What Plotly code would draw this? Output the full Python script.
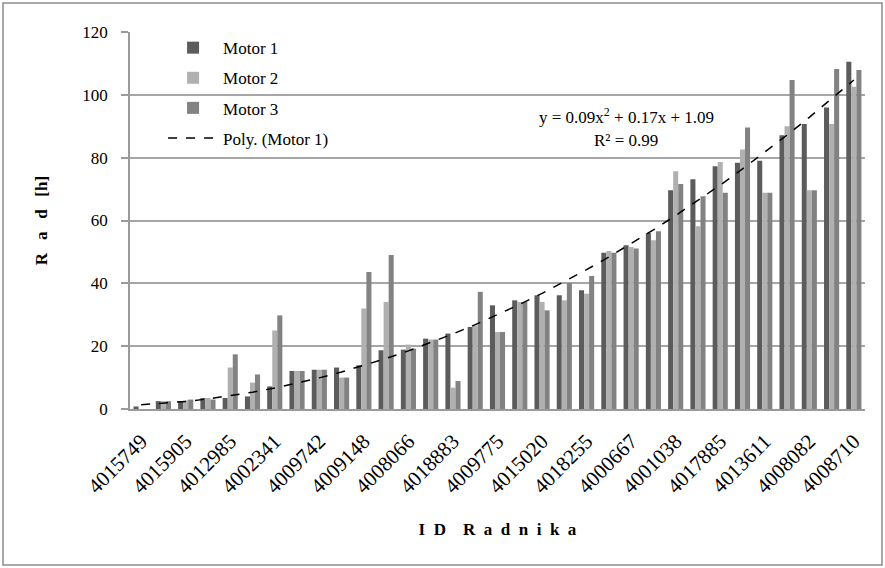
import plotly.graph_objects as go

tick_labels = ["4015749", "4015905", "4012985", "4002341", "4009742", "4009148",
               "4008066", "4018883", "4009775", "4015020", "4018255", "4000667",
               "4001038", "4017885", "4013611", "4008082", "4008710"]

motor1 = [0.8, 2.5, 2.5, 3.5, 3.5, 4.0, 7.2, 12.1, 12.5, 13.2, 13.9, 18.7, 18.9,
          22.4, 24.0, 26.1, 33.0, 34.6, 36.2, 36.2, 37.8, 49.7, 52.1, 56.0, 69.6,
          73.1, 77.3, 78.4, 79.0, 87.1, 90.7, 96.0, 110.5]
motor2 = [0.0, 2.5, 2.8, 3.5, 13.2, 8.4, 25.0, 12.1, 12.5, 10.0, 32.0, 34.1, 20.5,
          22.1, 6.8, 26.6, 24.5, 34.1, 34.1, 34.6, 36.7, 50.3, 51.6, 53.7, 75.7,
          58.2, 78.6, 82.6, 68.8, 90.0, 69.6, 90.7, 102.6]
motor3 = [0.0, 2.5, 3.0, 3.0, 17.4, 11.0, 29.8, 12.1, 12.5, 10.0, 43.6, 49.0, 19.2,
          22.1, 8.9, 37.3, 24.5, 34.1, 31.4, 40.1, 42.3, 49.7, 51.1, 56.6, 71.6,
          67.7, 68.8, 89.6, 68.8, 104.7, 69.6, 108.2, 107.9]

# displayed trendline equation coefficients (a*x^2 + b*x + c)
poly_coef = [0.09, 0.17, 1.09]

n = len(motor1)
xs = list(range(n))
trend = [poly_coef[0] * (i + 1) ** 2 + poly_coef[1] * (i + 1) + poly_coef[2] for i in xs]

serif = "Liberation Serif, Times New Roman, serif"
sp = "\u00a0"

fig = go.Figure()
fig.add_bar(x=xs, y=motor1, name="Motor 1", marker_color="#5c5c5c", marker_line_width=0,
            legendgroup="a")
fig.add_bar(x=xs, y=motor2, name="Motor 2", marker_color="#b0b0b0", marker_line_width=0,
            legendgroup="b")
fig.add_bar(x=xs, y=motor3, name="Motor 3", marker_color="#828282", marker_line_width=0,
            legendgroup="c")
fig.add_scatter(x=xs, y=trend, mode="lines", name="Poly. (Motor 1)", legendgroup="d",
                line=dict(color="black", dash="dash", width=1.5))

L, R, T, B = 130, 20, 32, 159
W, H = 885, 568
pw, ph = W - L - R, H - T - B

ytitle = "<b>R" + sp * 3 + "a" + sp * 3 + "d" + sp * 3 + "[h]</b>"
xtitle = "<b>I" + sp * 2 + "D" + sp * 4 + "R" + sp * 2 + "a" + sp * 2 + "d" + sp * 2 + \
         "n" + sp * 2 + "i" + sp * 2 + "k" + sp * 2 + "a</b>"

fig.update_layout(
    width=W, height=H,
    margin=dict(l=L, r=R, t=T, b=B, autoexpand=False),
    paper_bgcolor="white", plot_bgcolor="white",
    barmode="group", bargap=0.32, bargroupgap=0,
    font=dict(family=serif, size=16, color="black"),
    legend=dict(x=0.045, y=1.005, xanchor="left", yanchor="top",
                bgcolor="rgba(0,0,0,0)", font=dict(size=17, family=serif),
                tracegroupgap=5, itemwidth=50),
    xaxis=dict(range=[-0.5, n - 0.5], tickmode="array", automargin=False,
               tickvals=xs[::2], ticktext=tick_labels, tickangle=-45,
               showgrid=False, showline=True, linecolor="#9a9a9a", linewidth=1.5,
               ticks="", tickfont=dict(size=21, family=serif), ticklabelstandoff=10,
               title=dict(text=xtitle, font=dict(size=17, family=serif),
                          standoff=26)),
    yaxis=dict(range=[0, 120], dtick=20, showgrid=True, gridcolor="#a6a6a6", gridwidth=1.5,
               automargin=False,
               showline=True, linecolor="#9a9a9a", linewidth=1.5, zeroline=False,
               ticks="outside", ticklen=7, tickcolor="#9a9a9a", tickwidth=1.5,
               tickfont=dict(size=17, family=serif), ticklabelstandoff=10,
               title=dict(text=ytitle, font=dict(size=17, family=serif),
                          standoff=30)),
    annotations=[
        dict(x=(626 - L) / pw, y=(409 - 116) / ph, xref="paper", yref="paper", showarrow=False,
             xanchor="center", yanchor="middle",
             text="y = 0.09x<sup>2</sup> + 0.17x + 1.09", font=dict(size=17, family=serif)),
        dict(x=(626 - L) / pw, y=(409 - 140) / ph, xref="paper", yref="paper", showarrow=False,
             xanchor="center", yanchor="middle",
             text="R² = 0.99", font=dict(size=17, family=serif)),
    ],
    shapes=[dict(type="rect", xref="paper", yref="paper",
                 x0=(3 - L) / pw, x1=(W - 3 - L) / pw,
                 y0=-(H - 3 - T - ph) / ph, y1=1 + (T - 3) / ph,
                 line=dict(color="#8c8c8c", width=1.5), layer="below")],
)

fig.write_html("out.html", config={"displayModeBar": False},
               post_script="document.body.style.margin='0';")
